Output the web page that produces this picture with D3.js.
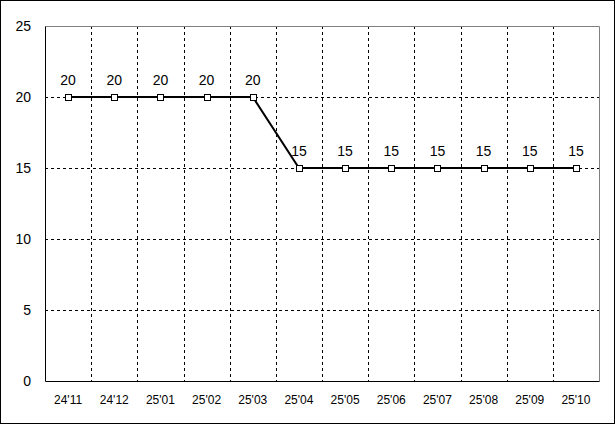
<!DOCTYPE html>
<html>
<head>
<meta charset="utf-8">
<script src="https://cdn.jsdelivr.net/npm/d3@7"></script>
<style>
  body { margin: 0; background: #fff; }
  svg text { font-family: "Liberation Sans", "DejaVu Sans", sans-serif; font-size: 14px; fill: #000; }
</style>
</head>
<body>
<div id="chart"></div>
<script>
// chart data
var months = ["24'11", "24'12", "25'01", "25'02", "25'03", "25'04", "25'05", "25'06", "25'07", "25'08", "25'09", "25'10"];
var values = [20, 20, 20, 20, 20, 15, 15, 15, 15, 15, 15, 15];
var yTicks = [0, 5, 10, 15, 20, 25];

var width = 615, height = 424;
var margin = {left: 45, top: 26, right: 16, bottom: 43};

var svg = d3.select("#chart").append("svg")
    .attr("width", width)
    .attr("height", height);

// outer frame
svg.append("rect")
    .attr("x", 0.5).attr("y", 0.5)
    .attr("width", width - 1).attr("height", height - 1)
    .attr("fill", "#fff").attr("stroke", "#000");

var x = d3.scaleBand()
    .domain(months)
    .range([margin.left, width - margin.right]);

var y = d3.scaleLinear()
    .domain([0, 25])
    .range([height - margin.bottom, margin.top]);

var data = months.map(function(m, i) { return {m: m, v: values[i]}; });

// gridlines
svg.append("g").selectAll("line")
    .data(months.slice(1))
    .enter().append("line")
    .attr("x1", function(d) { return Math.round(x(d)) + 0.5; })
    .attr("x2", function(d) { return Math.round(x(d)) + 0.5; })
    .attr("y1", y(25)).attr("y2", y(0))
    .attr("stroke", "#000").attr("stroke-dasharray", "3,3");

svg.append("g").selectAll("line")
    .data(yTicks.slice(1, -1))
    .enter().append("line")
    .attr("x1", margin.left).attr("x2", width - margin.right)
    .attr("y1", function(d) { return Math.round(y(d)) + 0.5; })
    .attr("y2", function(d) { return Math.round(y(d)) + 0.5; })
    .attr("stroke", "#000").attr("stroke-dasharray", "3,3");

// plot border: top/right gray, left/bottom black
var x0 = margin.left + 0.5, x1 = width - margin.right + 0.5;
var yt = Math.round(y(25)) + 0.5, yb = Math.round(y(0)) + 0.5;
svg.append("path").attr("d", "M" + x0 + "," + yt + "H" + x1 + "V" + yb)
    .attr("fill", "none").attr("stroke", "#808080");
svg.append("path").attr("d", "M" + x0 + "," + yt + "V" + yb + "H" + x1)
    .attr("fill", "none").attr("stroke", "#000");

// axis labels
svg.append("g").selectAll("text")
    .data(yTicks)
    .enter().append("text")
    .attr("x", 31)
    .attr("y", function(d) { return y(d) + 5; })
    .attr("text-anchor", "end")
    .text(function(d) { return d; });

svg.append("g").selectAll("text")
    .data(months)
    .enter().append("text")
    .attr("x", function(d) { return x(d) + x.bandwidth() / 2; })
    .attr("y", 404)
    .attr("text-anchor", "middle")
    .style("font-size", "12px")
    .text(function(d) { return d; });

// line
var line = d3.line()
    .x(function(d) { return x(d.m) + x.bandwidth() / 2; })
    .y(function(d) { return y(d.v); });

svg.append("path")
    .datum(data)
    .attr("d", line)
    .attr("fill", "none")
    .attr("stroke", "#000")
    .attr("stroke-width", 2);

// markers
svg.append("g").selectAll("rect")
    .data(data)
    .enter().append("rect")
    .attr("x", function(d) { return Math.round(x(d.m) + x.bandwidth() / 2) - 3 + 0.5; })
    .attr("y", function(d) { return Math.round(y(d.v)) - 3 + 0.5; })
    .attr("width", 6).attr("height", 6)
    .attr("fill", "#fff").attr("stroke", "#000");

// value labels
svg.append("g").selectAll("text")
    .data(data)
    .enter().append("text")
    .attr("x", function(d) { return x(d.m) + x.bandwidth() / 2; })
    .attr("y", function(d) { return y(d.v) - 12; })
    .attr("text-anchor", "middle")
    .text(function(d) { return d.v; });
</script>
</body>
</html>
